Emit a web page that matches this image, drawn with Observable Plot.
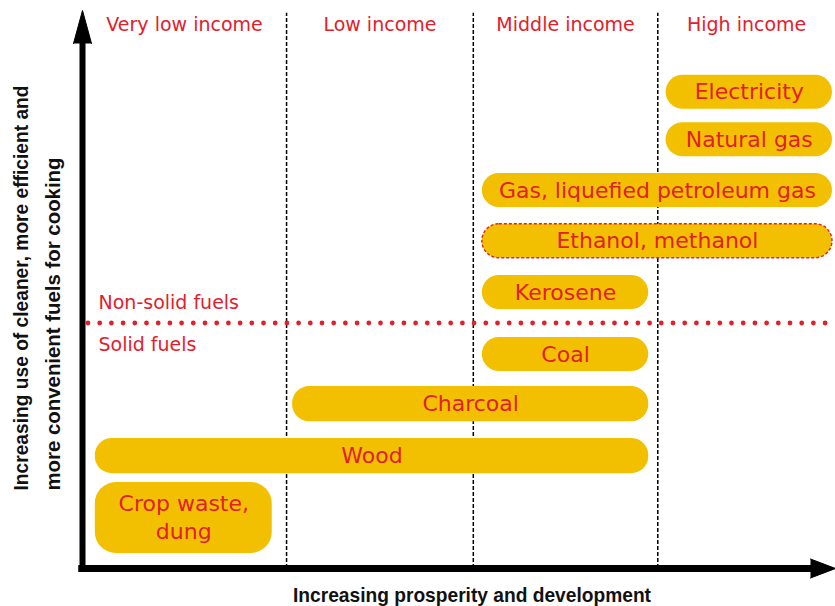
<!DOCTYPE html>
<html><head><meta charset="utf-8">
<script src="https://cdn.jsdelivr.net/npm/d3@7"></script>
<script src="https://cdn.jsdelivr.net/npm/@observablehq/plot@0.6"></script>
<style>html,body{margin:0;padding:0;background:#fff;}</style>
</head><body><div id="chart"></div>
<script>
// Fuel ladder: x = increasing prosperity (0–100), y = cleanliness/convenience (0–100)
const fuels = ["Electricity", "Natural gas", "Gas, liquefied petroleum gas", "Ethanol, methanol", "Kerosene", "Coal", "Charcoal", "Wood", "Crop waste,\ndung"];
const prosperityStart = [77.5, 77.5, 53.1, 53.1, 53.1, 53.1, 27.9, 1.7, 1.7];
const prosperityEnd   = [99.6, 99.6, 99.6, 99.6, 75.2, 75.2, 75.2, 75.2, 25.2];
const cleanLow  = [82.3, 73.8, 64.7, 55.6, 46.4, 35.3, 26.3, 17.0, 2.7];
const cleanHigh = [88.4, 79.9, 70.8, 61.7, 52.5, 41.4, 32.6, 23.3, 15.4];
const emergingFuels = ["Ethanol, methanol"];
const incomeGroups = ["Very low income", "Low income", "Middle income", "High income"];
const incomeBounds = [0, 27.1, 51.9, 76.4, 100];
const fuelTypeBoundary = 44.0;
const fuelTypes = ["Non-solid fuels", "Solid fuels"];
const xTitle = "Increasing prosperity and development";
const yTitleLines = ["Increasing use of cleaner, more efficient and", "more convenient fuels for cooking"];

const rows = fuels.map((name, i) => ({name, x1: prosperityStart[i], x2: prosperityEnd[i], y1: cleanLow[i], y2: cleanHigh[i]}));
const headers = incomeGroups.map((g, i) => ({g, x: (incomeBounds[i] + incomeBounds[i + 1]) / 2}));
const dividers = incomeBounds.slice(1, -1);
const isCrop = d => d.name.startsWith("Crop");

const RED = "#e2202c", GOLD = "#f2c000";
const BOLDFONT = "'Liberation Sans', Arial, sans-serif";
const rectCh = {x1: "x1", x2: "x2", y1: "y1", y2: "y2"};

const chart = Plot.plot({
  width: 835, height: 606, margin: 0,
  x: {domain: [0, 100], range: [82, 835], axis: null},
  y: {domain: [0, 100], range: [568, 10], axis: null},
  style: {background: "white", fontFamily: "'DejaVu Sans', sans-serif"},
  marks: [
    Plot.ruleX(dividers, {y1: 0, y2: 99.5, stroke: "black", strokeWidth: 1.5, strokeDasharray: "4,2"}),
    Plot.ruleY([fuelTypeBoundary], {x1: 0, x2: 100, stroke: RED, strokeWidth: 4.8, strokeDasharray: "0,11.7", strokeLinecap: "round", strokeDashoffset: -6}),
    Plot.rect(rows.filter(d => !isCrop(d)), {...rectCh, fill: GOLD, rx: 17}),
    Plot.rect(rows.filter(isCrop), {...rectCh, fill: GOLD, rx: 21}),
    Plot.rect(rows.filter(d => emergingFuels.includes(d.name)), {...rectCh, fill: "none", stroke: RED, strokeWidth: 1.4, strokeDasharray: "3,2", rx: 17}),
    Plot.text(rows.filter(d => !isCrop(d)), {x: d => (d.x1 + d.x2) / 2, y: d => (d.y1 + d.y2) / 2, text: "name", fill: RED, fontSize: 22}),
    Plot.text(rows.filter(isCrop), {x: d => (d.x1 + d.x2) / 2, y: d => (d.y1 + d.y2) / 2, text: "name", fill: RED, fontSize: 22, lineHeight: 1.3, dy: -2}),
    Plot.text(headers, {x: "x", text: "g", frameAnchor: "top", lineAnchor: "top", dy: 17, fill: RED, fontSize: 19}),
    Plot.text([fuelTypes[0]], {x: 0, y: fuelTypeBoundary, text: d => d, textAnchor: "start", dx: 16, dy: -20, fill: RED, fontSize: 19}),
    Plot.text([fuelTypes[1]], {x: 0, y: fuelTypeBoundary, text: d => d, textAnchor: "start", dx: 16, dy: 22, fill: RED, fontSize: 19}),
    // axes with arrowheads
    Plot.ruleY([0], {x1: -0.5, x2: 97, stroke: "black", strokeWidth: 7}),
    Plot.ruleX([0], {y1: -0.6, y2: 95, stroke: "black", strokeWidth: 6}),
    Plot.vector([{x: 0, y: 100}], {x: "x", y: "y", rotate: 0, length: 33, r: 9, anchor: "end", shape: "spike", fill: "black", stroke: "black", strokeWidth: 1}),
    Plot.vector([{x: 100, y: 0}], {x: "x", y: "y", rotate: 90, length: 25, r: 9.5, anchor: "end", shape: "spike", fill: "black", stroke: "black", strokeWidth: 1}),
    // axis titles
    Plot.text([xTitle], {text: d => d, frameAnchor: "bottom", lineAnchor: "bottom", dx: 54, dy: -4.3, fontSize: 21, fontWeight: "bold", fontFamily: BOLDFONT, fill: "#111"}),
    Plot.text([yTitleLines.join("\n")], {text: d => d, frameAnchor: "bottom-left", rotate: -90, textAnchor: "start", lineAnchor: "middle", dx: 33, dy: -116, lineHeight: 1.52, fontSize: 21, fontWeight: "bold", fontFamily: BOLDFONT, fill: "#111"})
  ]
});

// condense the bold axis titles to the reference's narrow face
const condense = (str, len) => {
  for (const el of chart.querySelectorAll("text, tspan")) {
    if (el.querySelector("tspan")) continue;
    if (el.textContent === str) {
      el.setAttribute("textLength", len);
      el.setAttribute("lengthAdjust", "spacingAndGlyphs");
    }
  }
};
condense(xTitle, 358);
condense(yTitleLines[0], 405);
condense(yTitleLines[1], 333);
document.getElementById("chart").append(chart);
</script>
</body></html>
